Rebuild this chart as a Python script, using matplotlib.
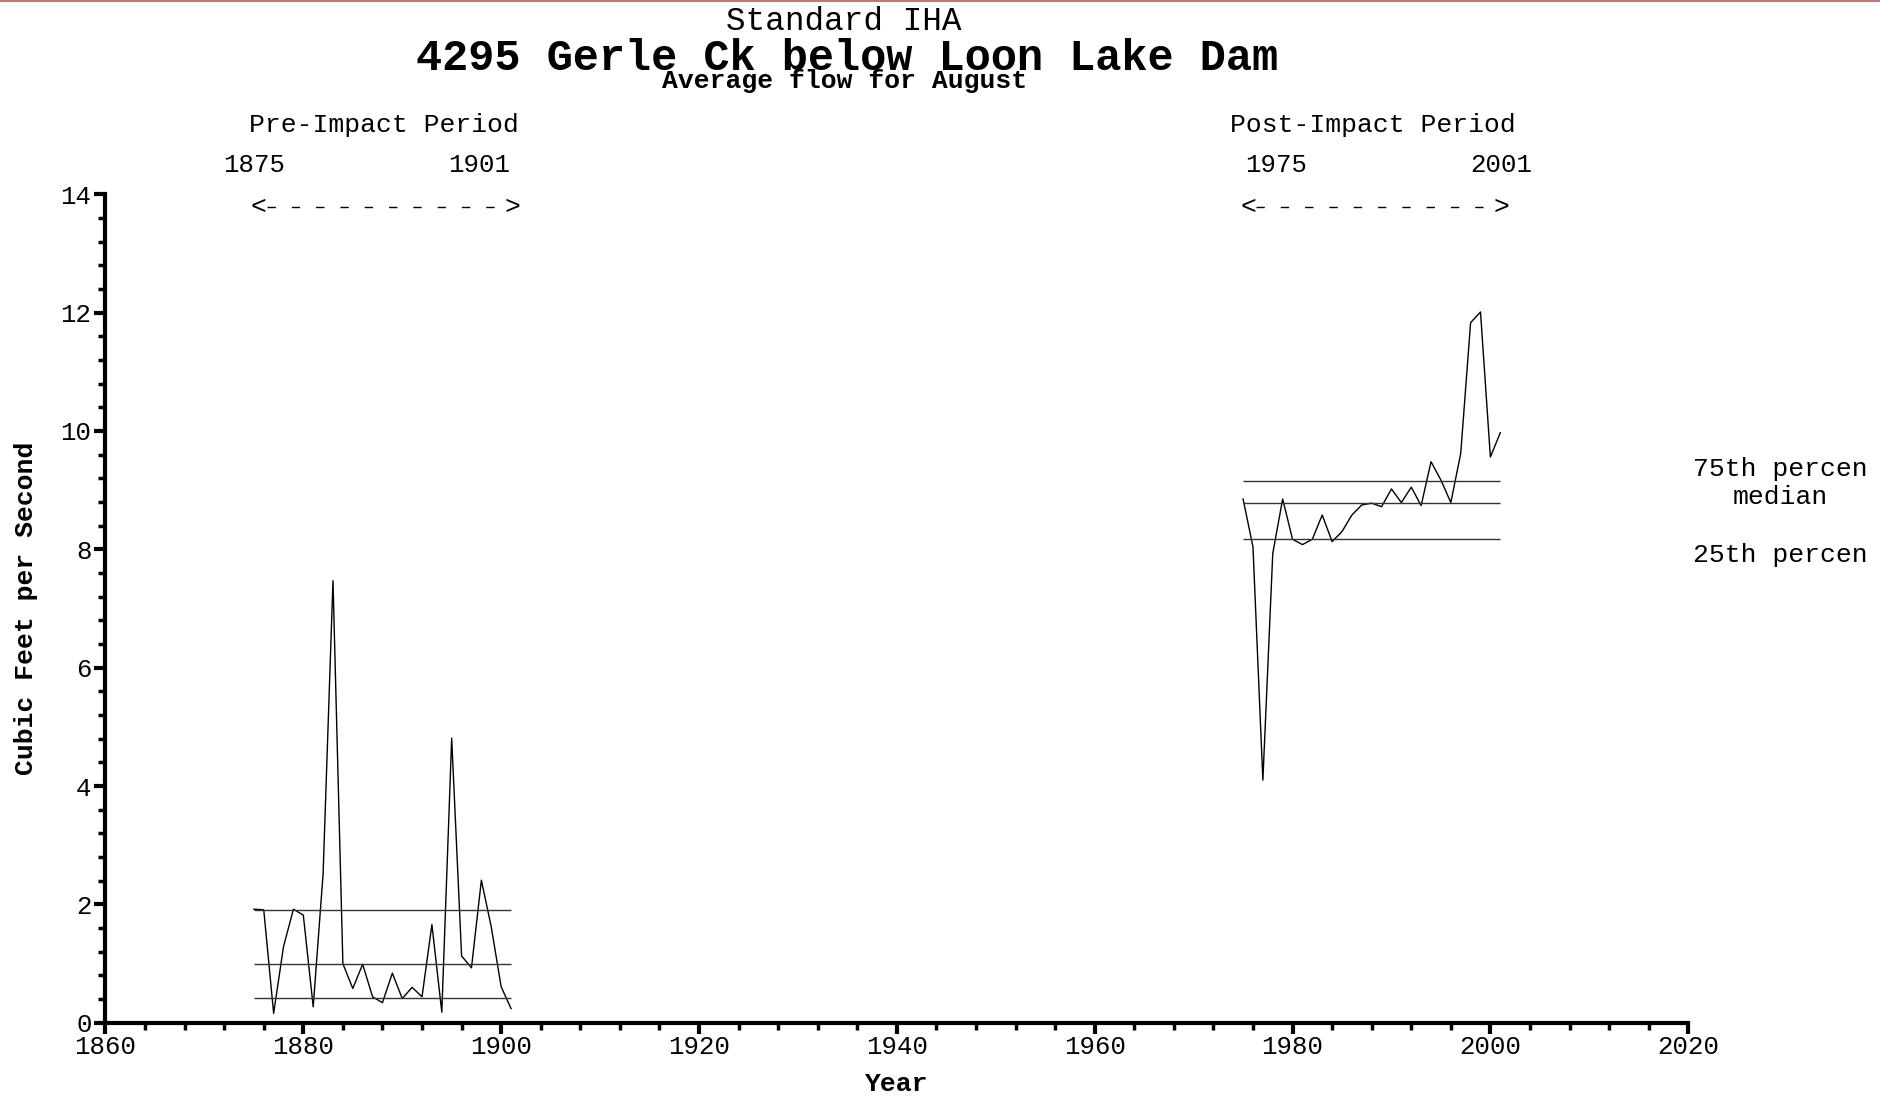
import numpy as np
import matplotlib.pyplot as plt
from matplotlib.ticker import MultipleLocator

plt.rcParams['font.family'] = ['Liberation Mono', 'DejaVu Sans Mono']

# August average flow (cfs), pre- and post-impact years
pre_years = list(range(1875, 1902))
pre_flow = [1.92, 1.91, 0.16, 1.29, 1.92, 1.82, 0.27, 2.52, 7.47, 1.00,
            0.58, 0.99, 0.44, 0.34, 0.84, 0.41, 0.60, 0.44, 1.66, 0.18,
            4.81, 1.13, 0.93, 2.41, 1.62, 0.61, 0.24]
post_years = list(range(1975, 2002))
post_flow = [8.85, 8.04, 4.10, 7.93, 8.85, 8.17, 8.08, 8.17, 8.58, 8.13,
             8.30, 8.58, 8.75, 8.78, 8.72, 9.02, 8.79, 9.05, 8.74, 9.48,
             9.17, 8.79, 9.62, 11.83, 12.01, 9.56, 9.97]

# 25th, median, 75th
pre_pct = [0.42, 1.00, 1.905]
post_pct = [8.17, 8.78, 9.15]
pct_names = ['25th percen', 'median', '75th percen']

fig = plt.figure(figsize=(18.8, 10.99), dpi=100)
ax = fig.add_axes([0.0561, 0.0693, 0.8419, 0.754])

ax.plot(pre_years, pre_flow, color='black', lw=1.0)
ax.plot(post_years, post_flow, color='black', lw=1.0)
for v in pre_pct:
    ax.hlines(v, pre_years[0], pre_years[-1], color='#333333', lw=1.0)
for v in post_pct:
    ax.hlines(v, post_years[0], post_years[-1], color='#333333', lw=1.0)

ax.set_xlim(1860, 2020)
ax.set_ylim(0, 14)
for s in ['top', 'right']:
    ax.spines[s].set_visible(False)
for s in ['left', 'bottom']:
    ax.spines[s].set_linewidth(3)

ax.xaxis.set_major_locator(MultipleLocator(20))
ax.xaxis.set_minor_locator(MultipleLocator(4))
ax.yaxis.set_major_locator(MultipleLocator(2))
ax.yaxis.set_minor_locator(MultipleLocator(0.4))
ax.tick_params(which='major', length=8, width=3, labelsize=18.5)
ax.tick_params(axis='x', which='major', pad=1)
ax.tick_params(axis='y', which='major', pad=2)
ax.tick_params(which='minor', length=5, width=2.5)

ax.set_xlabel('Year', fontsize=19, fontweight='bold', labelpad=9)
ax.set_ylabel('Cubic Feet per Second', fontsize=19, fontweight='bold', labelpad=16)

# period headers and year spans
for yrs, name, lab_x in [(pre_years, 'Pre-Impact Period', (1875.0, 1897.8)),
                         (post_years, 'Post-Impact Period', (1978.3, 2001.1))]:
    a, b = yrs[0], yrs[-1]
    ax.text((a + b) / 2 + 0.1, 15.17, name, ha='center', va='center', fontsize=19, clip_on=False)
    ax.text(lab_x[0], 14.49, str(a), ha='center', va='center', fontsize=18.5, clip_on=False)
    ax.text(lab_x[1], 14.49, str(b), ha='center', va='center', fontsize=18.5, clip_on=False)
    ax.plot([a + 1.3, b - 0.6], [13.78, 13.78], color='black', lw=1.0,
            dashes=(6, 11.5), clip_on=False)
    ax.text(a + 0.5, 13.78, '<', ha='center', va='center', fontsize=19, clip_on=False)
    ax.text(b + 0.1, 13.78, '>', ha='center', va='center', fontsize=19, clip_on=False)

# percentile labels at the right
for v, name, off in zip(post_pct, pct_names, [-0.26, 0.10, 0.20]):
    ax.text(2029.3, v + off, name, ha='center', va='center', fontsize=19, clip_on=False)

fig.text(0.449, 1 - 22 / 1099, 'Standard IHA', ha='center', va='center', fontsize=23.5)
fig.text(0.4505, 1 - 58 / 1099, '4295 Gerle Ck below Loon Lake Dam', ha='center', va='center',
         fontsize=31.4, fontweight='bold')
fig.text(0.449, 1 - 81 / 1099, 'Average flow for August', ha='center', va='center',
         fontsize=19, fontweight='bold')

fig.add_artist(plt.Line2D([0, 1], [0.9995, 0.9995], color='#c07878', lw=1.5))

fig.savefig('out.png', dpi=100)
